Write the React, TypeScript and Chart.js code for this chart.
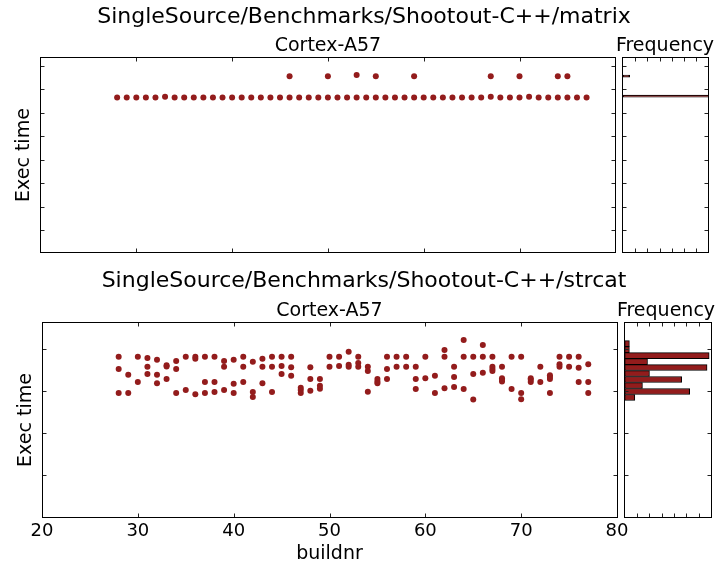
import React, { useEffect, useRef } from 'react';
import { Chart, registerables } from 'chart.js';

Chart.register(...registerables);

const FONT = '"DejaVu Sans", sans-serif';
const DOT = '#931c1c';

// ---------- matrix ----------
const matrixBuild = [
  28, 29, 30, 31, 32, 33, 34, 35, 36, 37, 38, 39, 40, 41, 42, 43, 44, 45, 46, 47,
  48, 49, 50, 51, 52, 53, 54, 55, 56, 57, 58, 59, 60, 61, 62, 63, 64, 65, 66, 67,
  68, 69, 70, 71, 72, 73, 74, 75, 76, 77,
  46, 50, 53, 55, 59, 67, 70, 74, 75,
];
const matrixTime = [
  6.66, 6.66, 6.66, 6.66, 6.66, 6.69, 6.66, 6.66, 6.66, 6.66, 6.66, 6.66, 6.66, 6.66, 6.66, 6.66, 6.66, 6.66, 6.66, 6.66,
  6.66, 6.66, 6.66, 6.66, 6.66, 6.66, 6.66, 6.66, 6.66, 6.66, 6.66, 6.66, 6.66, 6.66, 6.66, 6.66, 6.66, 6.66, 6.66, 6.69,
  6.66, 6.66, 6.66, 6.69, 6.66, 6.66, 6.66, 6.66, 6.66, 6.66,
  7.57, 7.57, 7.62, 7.57, 7.57, 7.57, 7.57, 7.57, 7.57,
];
const matrixBinCenters = [6.71, 6.81, 6.90, 7.00, 7.09, 7.19, 7.28, 7.38, 7.48, 7.57];
const matrixBinFreq = [12, 0, 0, 0, 0, 0, 0, 0, 0, 0.57];
const matrixYTicks = [1, 2, 3, 4, 5, 6, 7, 8];

// ---------- strcat ----------
const strcatBuild = [
  28, 28, 28, 29, 29, 30, 30, 31, 31, 31, 32, 32, 32, 33, 33, 33, 34, 34, 34, 35, 35,
  36, 36, 36, 37, 37, 37, 38, 38, 38, 39, 39, 39, 40, 40, 40, 41, 41, 41, 42, 42, 42,
  43, 43, 43, 44, 44, 44, 45, 45, 45, 46, 46, 46, 47, 47, 47, 48, 48, 48, 49, 49, 49,
  50, 50, 51, 51, 52, 52, 52, 53, 53, 53, 54, 54, 54, 55, 55, 55, 56, 56, 56, 57, 57,
  58, 58, 59, 59, 59, 60, 60, 61, 61, 62, 62, 62, 63, 63, 63, 64, 64, 64, 65, 65, 65,
  66, 66, 66, 67, 67, 67, 67, 68, 68, 68, 68, 69, 69, 70, 70, 70, 71, 71, 71, 72, 72,
  73, 73, 73, 73, 74, 74, 74, 75, 75, 76, 76, 76, 77, 77, 77,
];
const strcatTime = [
  3.82, 3.53, 2.955, 3.39, 2.955, 3.82, 3.22, 3.79, 3.58, 3.41, 3.75, 3.39, 3.19, 3.62, 3.59, 3.29, 3.72, 3.53, 2.955, 3.82, 3.03,
  3.82, 3.77, 2.93, 3.82, 3.22, 2.955, 3.82, 3.22, 2.98, 3.72, 3.58, 3.03, 3.75, 3.18, 2.955, 3.82, 3.58, 3.22, 3.70, 2.98, 2.86,
  3.77, 3.58, 3.19, 3.82, 3.58, 2.98, 3.82, 3.60, 3.41, 3.82, 3.57, 3.37, 3.08, 3.03, 2.955, 3.57, 3.29, 3.01, 3.29, 3.13, 3.06,
  3.82, 3.58, 3.82, 3.60, 3.94, 3.63, 3.58, 3.82, 3.67, 3.58, 3.58, 3.48, 2.99, 3.29, 3.23, 3.19, 3.82, 3.53, 3.29, 3.82, 3.58,
  3.82, 3.58, 3.58, 3.29, 3.05, 3.82, 3.31, 3.37, 2.955, 3.98, 3.82, 3.07, 3.58, 3.34, 3.10, 4.22, 3.82, 3.05, 3.82, 3.41, 2.80,
  4.10, 3.82, 3.44, 3.82, 3.58, 3.53, 3.48, 3.58, 3.31, 3.27, 3.23, 3.82, 3.05, 3.82, 2.96, 2.81, 3.31, 3.27, 3.22, 3.58, 3.22,
  3.38, 3.34, 3.29, 2.955, 3.82, 3.64, 3.58, 3.82, 3.58, 3.82, 3.56, 3.22, 3.64, 3.22, 2.955,
];
const strcatBinCenters = [4.133, 3.990, 3.848, 3.705, 3.563, 3.420, 3.278, 3.135, 2.993, 2.850];
const strcatBinFreq = [0.38, 0.38, 6.85, 1.85, 6.68, 2.01, 4.62, 1.44, 5.27, 0.82];
const strcatYTicks = [1, 2, 3, 4];

const buildTicks = [20, 30, 40, 50, 60, 70, 80];
const freqTicks = [1, 2, 3, 4, 5, 6];

// ---------- plugins ----------
const suptitlePlugin = {
  id: 'suptitle',
  afterDraw(chart: any, _a: any, opts: any) {
    if (!opts || !opts.text) return;
    const ctx = chart.ctx;
    ctx.save();
    ctx.font = `${opts.size || 22}px ${FONT}`;
    ctx.fillStyle = '#000';
    ctx.textAlign = 'center';
    ctx.textBaseline = 'middle';
    ctx.fillText(opts.text, opts.x, opts.y);
    ctx.restore();
  },
};

const framePlugin = {
  id: 'frame',
  afterDatasetsDraw(chart: any) {
    const { ctx, chartArea: a } = chart;
    const xs = chart.scales.x;
    const ys = chart.scales.y;
    const L = Math.floor(a.left) + 0.5;
    const R = Math.floor(a.right) + 0.5;
    const T = Math.floor(a.top) + 0.5;
    const B = Math.floor(a.bottom) + 0.5;
    ctx.save();
    ctx.strokeStyle = '#222';
    ctx.lineWidth = 1;
    ctx.beginPath();
    for (const t of xs.ticks) {
      const p = Math.round(xs.getPixelForValue(t.value)) + 0.5;
      if (p <= L + 1 || p >= R - 1) continue;
      ctx.moveTo(p, B);
      ctx.lineTo(p, B - 4);
      ctx.moveTo(p, T);
      ctx.lineTo(p, T + 4);
    }
    for (const t of ys.ticks) {
      const p = Math.round(ys.getPixelForValue(t.value)) + 0.5;
      if (p <= T + 1 || p >= B - 1) continue;
      ctx.moveTo(L, p);
      ctx.lineTo(L + 4, p);
      ctx.moveTo(R, p);
      ctx.lineTo(R - 4, p);
    }
    ctx.stroke();
    ctx.strokeStyle = '#000';
    ctx.strokeRect(L, T, R - L, B - T);
    ctx.restore();
  },
};

const setTicks = (vals: number[]) => (s: any) => {
  s.ticks = vals.map((v) => ({ value: v }));
};

const titleFont = { family: FONT, size: 19, weight: 'normal' as const };

function panelTitle(text: string) {
  return {
    display: true,
    text,
    fullSize: false,
    font: titleFont,
    color: '#000',
    padding: { top: 0, bottom: 0 },
  };
}

// ---------- configs ----------
function scatterConfig(p: {
  build: number[];
  time: number[];
  suptitle: string;
  supY: number;
  yMin: number;
  yMax: number;
  yTicks: number[];
  padding: any;
  yWidth: number;
  yTitlePad: number;
  showX: boolean;
  xHeight: number;
}): any {
  return {
    type: 'scatter',
    data: {
      datasets: [
        {
          data: p.build.map((b, i) => ({ x: b, y: p.time[i] })),
          backgroundColor: DOT,
          borderColor: DOT,
          borderWidth: 0,
          pointRadius: 3,
          pointHoverRadius: 3,
        },
      ],
    },
    plugins: [suptitlePlugin, framePlugin],
    options: {
      responsive: false,
      animation: false,
      events: [],
      layout: { padding: p.padding },
      plugins: {
        legend: { display: false },
        tooltip: { enabled: false },
        title: panelTitle('Cortex-A57'),
        suptitle: { text: p.suptitle, x: 364, y: p.supY, size: 22 },
      },
      scales: {
        x: {
          type: 'linear',
          min: 20,
          max: 80,
          afterBuildTicks: setTicks(buildTicks),
          afterFit: (s: any) => {
            s.height = p.xHeight;
          },
          grid: { display: false, drawTicks: false },
          border: { display: false },
          ticks: {
            display: p.showX,
            font: { family: FONT, size: 18 },
            color: '#000',
            padding: 3,
            maxRotation: 0,
          },
          title: {
            display: p.showX,
            text: 'buildnr',
            font: titleFont,
            color: '#000',
            padding: { top: 0, bottom: 0 },
          },
        },
        y: {
          type: 'linear',
          min: p.yMin,
          max: p.yMax,
          afterBuildTicks: setTicks(p.yTicks),
          afterFit: (s: any) => {
            s.width = p.yWidth;
          },
          grid: { display: false, drawTicks: false },
          border: { display: false },
          ticks: { display: false },
          title: {
            display: true,
            text: 'Exec time',
            font: titleFont,
            color: '#000',
            padding: { top: p.yTitlePad, bottom: 0 },
          },
        },
      },
    },
  };
}

function histConfig(p: {
  centers: number[];
  freq: number[];
  yMin: number;
  yMax: number;
  yTicks: number[];
  padding: any;
  yWidth: number;
  labelX: number;
  labelY: number;
}): any {
  return {
    type: 'bar',
    data: {
      datasets: [
        {
          data: p.centers.map((c, i) => ({ x: p.freq[i], y: c })),
          backgroundColor: DOT,
          borderColor: '#000',
          borderWidth: 1,
          borderSkipped: false,
          barPercentage: 1,
          categoryPercentage: 1,
        },
      ],
    },
    plugins: [suptitlePlugin, framePlugin],
    options: {
      indexAxis: 'y',
      responsive: false,
      animation: false,
      events: [],
      layout: { padding: p.padding },
      plugins: {
        legend: { display: false },
        tooltip: { enabled: false },
        title: { display: false },
        suptitle: { text: 'Frequency', x: p.labelX, y: p.labelY, size: 19 },
      },
      scales: {
        x: {
          type: 'linear',
          min: 0,
          max: 7,
          afterBuildTicks: setTicks(freqTicks),
          afterFit: (s: any) => {
            s.height = 0;
          },
          grid: { display: false, drawTicks: false },
          border: { display: false },
          ticks: { display: false },
        },
        y: {
          type: 'linear',
          offset: false,
          min: p.yMin,
          max: p.yMax,
          afterBuildTicks: setTicks(p.yTicks),
          afterFit: (s: any) => {
            s.width = p.yWidth;
          },
          grid: { display: false, offset: false, drawTicks: false },
          border: { display: false },
          ticks: { display: false },
        },
      },
    },
  };
}

function ChartBox(props: { left: number; top: number; width: number; height: number; make: () => any }) {
  const ref = useRef<HTMLCanvasElement>(null);
  useEffect(() => {
    const chart = new Chart(ref.current as HTMLCanvasElement, props.make());
    return () => chart.destroy();
  }, []);
  return (
    <div style={{ position: 'absolute', left: props.left, top: props.top, width: props.width, height: props.height }}>
      <canvas
        ref={ref}
        width={props.width}
        height={props.height}
        style={{ width: props.width, height: props.height, display: 'block' }}
      />
    </div>
  );
}

export default function App() {
  return (
    <div style={{ position: 'absolute', left: 0, top: 0, width: 728, height: 565, background: '#fff', overflow: 'hidden' }}>
      <ChartBox
        left={0}
        top={0}
        width={728}
        height={262}
        make={() =>
          scatterConfig({
            build: matrixBuild,
            time: matrixTime,
            suptitle: 'SingleSource/Benchmarks/Shootout-C++/matrix',
            supY: 17,
            yMin: 0.03,
            yMax: 8.37,
            yTicks: matrixYTicks,
            padding: { left: 0, right: 112.7, top: 34.6, bottom: 9.3 },
            yWidth: 40.5,
            yTitlePad: 12.4,
            showX: false,
            xHeight: 0,
          })
        }
      />
      <ChartBox
        left={600}
        top={0}
        width={128}
        height={262}
        make={() =>
          histConfig({
            centers: matrixBinCenters,
            freq: matrixBinFreq,
            yMin: 0.03,
            yMax: 8.37,
            yTicks: matrixYTicks,
            padding: { left: 0, right: 19.3, top: 57.3, bottom: 9.3 },
            yWidth: 22.7,
            labelX: 65,
            labelY: 46,
          })
        }
      />
      <ChartBox
        left={0}
        top={262}
        width={728}
        height={303}
        make={() =>
          scatterConfig({
            build: strcatBuild,
            time: strcatTime,
            suptitle: 'SingleSource/Benchmarks/Shootout-C++/strcat',
            supY: 19,
            yMin: 0,
            yMax: 4.63,
            yTicks: strcatYTicks,
            padding: { left: 0, right: 111, top: 37.9, bottom: 0 },
            yWidth: 42,
            yTitlePad: 14.5,
            showX: true,
            xHeight: 47.7,
          })
        }
      />
      <ChartBox
        left={600}
        top={262}
        width={128}
        height={303}
        make={() =>
          histConfig({
            centers: strcatBinCenters,
            freq: strcatBinFreq,
            yMin: 0,
            yMax: 4.63,
            yTicks: strcatYTicks,
            padding: { left: 0, right: 17, top: 60.7, bottom: 47.7 },
            yWidth: 24.7,
            labelX: 66,
            labelY: 49.5,
          })
        }
      />
    </div>
  );
}
